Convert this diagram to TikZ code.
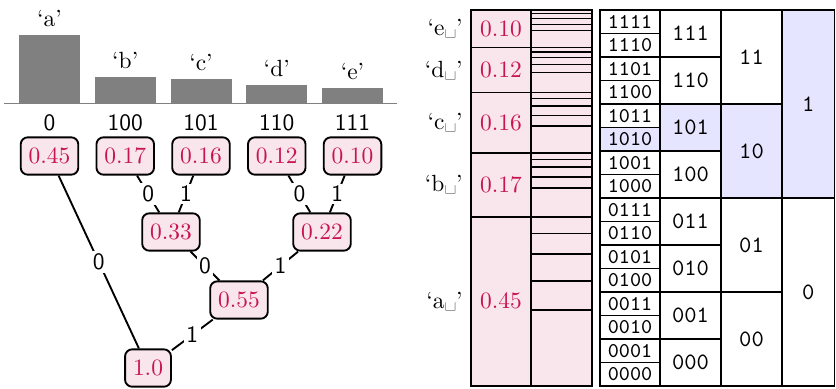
\documentclass[tikz,border=0pt]{standalone}
\usepackage{amsmath,amssymb}
\usetikzlibrary{positioning,calc}
\definecolor{probred}{RGB}{200,20,80}
\colorlet{probfill}{purple!10}
\colorlet{codefill}{blue!10}

\begin{document}
\begin{tikzpicture}[
  prob/.style={draw,thick,rounded corners=3pt,fill=probfill,text=probred,inner xsep=3.4pt,minimum height=0.56cm},
  bit/.style={font=\sffamily,fill=white,inner sep=1pt},
  edge/.style={thick},
  cell/.style={draw,semithick},
  codetxt/.style={font=\ttfamily},
]
  \useasboundingbox (0,0) rectangle (12.54,5.82);

  % histogram and leaves
  \draw[gray] (0.06,4.275) -- (5.955,4.275);
  \foreach \s/\p/\c [count=\i from 0] in {a/0.45/0,b/0.17/100,c/0.16/101,d/0.12/110,e/0.10/111}{
    \pgfmathsetmacro{\xc}{0.7425+1.1363*\i}
    \fill[gray] ({\xc-0.4575},4.275) rectangle ({\xc+0.4575},{4.275+2.265*\p});
    \node[above] (sym\s) at (\xc,{4.275+2.265*\p}) {`\s'};
    \node[font=\sffamily] (code\s) at (\xc,3.975) {\c};
    \node[prob] (p\s) at (\xc,3.48) {$\p$};
  }

  % merged nodes
  \node[prob] (pbc)   at (2.565,2.34) {$0.33$};
  \node[prob] (pde)   at (4.83,2.34)  {$0.22$};
  \node[prob] (pbcde) at (3.585,1.32) {$0.55$};
  \node[prob] (root)  at (2.22,0.30)  {$1.0$};

  \draw[edge] (root)  -- node[bit]{0} (pa);
  \draw[edge] (root)  -- node[bit]{1} (pbcde);
  \draw[edge] (pbcde) -- node[bit]{0} (pbc);
  \draw[edge] (pbcde) -- node[bit]{1} (pde);
  \draw[edge] (pbc)   -- node[bit]{0} (pb);
  \draw[edge] (pbc)   -- node[bit]{1} (pc);
  \draw[edge] (pde)   -- node[bit]{0} (pd);
  \draw[edge] (pde)   -- node[bit]{1} (pe);

  % intervals
  \foreach \s/\p/\lo/\hi in {a/0.45/0/0.45,b/0.17/0.45/0.62,c/0.16/0.62/0.78,d/0.12/0.78/0.90,e/0.10/0.90/1.0}{
    \pgfmathsetmacro{\yl}{0.03+5.64*\lo}
    \pgfmathsetmacro{\yh}{0.03+5.64*\hi}
    \draw[cell,fill=probfill] (7.065,\yl) rectangle (7.965,\yh);
    \draw[cell,fill=probfill] (7.965,\yl) rectangle (8.88,\yh);
    \node[text=probred] (iv\s) at (7.515,{(\yl+\yh)/2}) {$\p$};
    \node[anchor=east] (lab\s) at (7.065,{(\yl+\yh)/2}) {`\s\textvisiblespace'};
    \foreach \f in {0.45,0.62,0.78,0.90}
      \draw[semithick] (7.965,{\yl+\f*(\yh-\yl)}) -- (8.88,{\yl+\f*(\yh-\yl)});
  }

  % binary codes
  \fill[codefill] (9.0,{0.03+10*0.3525}) rectangle (9.9,{0.03+11*0.3525});
  \fill[codefill] (9.9,{0.03+5*0.705}) rectangle (10.815,{0.03+6*0.705});
  \fill[codefill] (10.815,{0.03+2*1.41}) rectangle (11.73,{0.03+3*1.41});
  \fill[codefill] (11.73,{0.03+2.82}) rectangle (12.52,5.67);
  \foreach \c [count=\k from 0] in {0000,0001,0010,0011,0100,0101,0110,0111,1000,1001,1010,1011,1100,1101,1110,1111}
    \draw[cell] (9.0,{0.03+0.3525*\k}) rectangle (9.9,{0.03+0.3525*(\k+1)}) node[midway,codetxt,font=\small\ttfamily] {\c};
  \foreach \c [count=\k from 0] in {000,001,010,011,100,101,110,111}
    \draw[cell] (9.9,{0.03+0.705*\k}) rectangle (10.815,{0.03+0.705*(\k+1)}) node[midway,codetxt] {\c};
  \foreach \c [count=\k from 0] in {00,01,10,11}
    \draw[cell] (10.815,{0.03+1.41*\k}) rectangle (11.73,{0.03+1.41*(\k+1)}) node[midway,codetxt] {\c};
  \foreach \c [count=\k from 0] in {0,1}
    \draw[cell] (11.73,{0.03+2.82*\k}) rectangle (12.52,{0.03+2.82*(\k+1)}) node[midway,codetxt] {\c};
\end{tikzpicture}
\end{document}
